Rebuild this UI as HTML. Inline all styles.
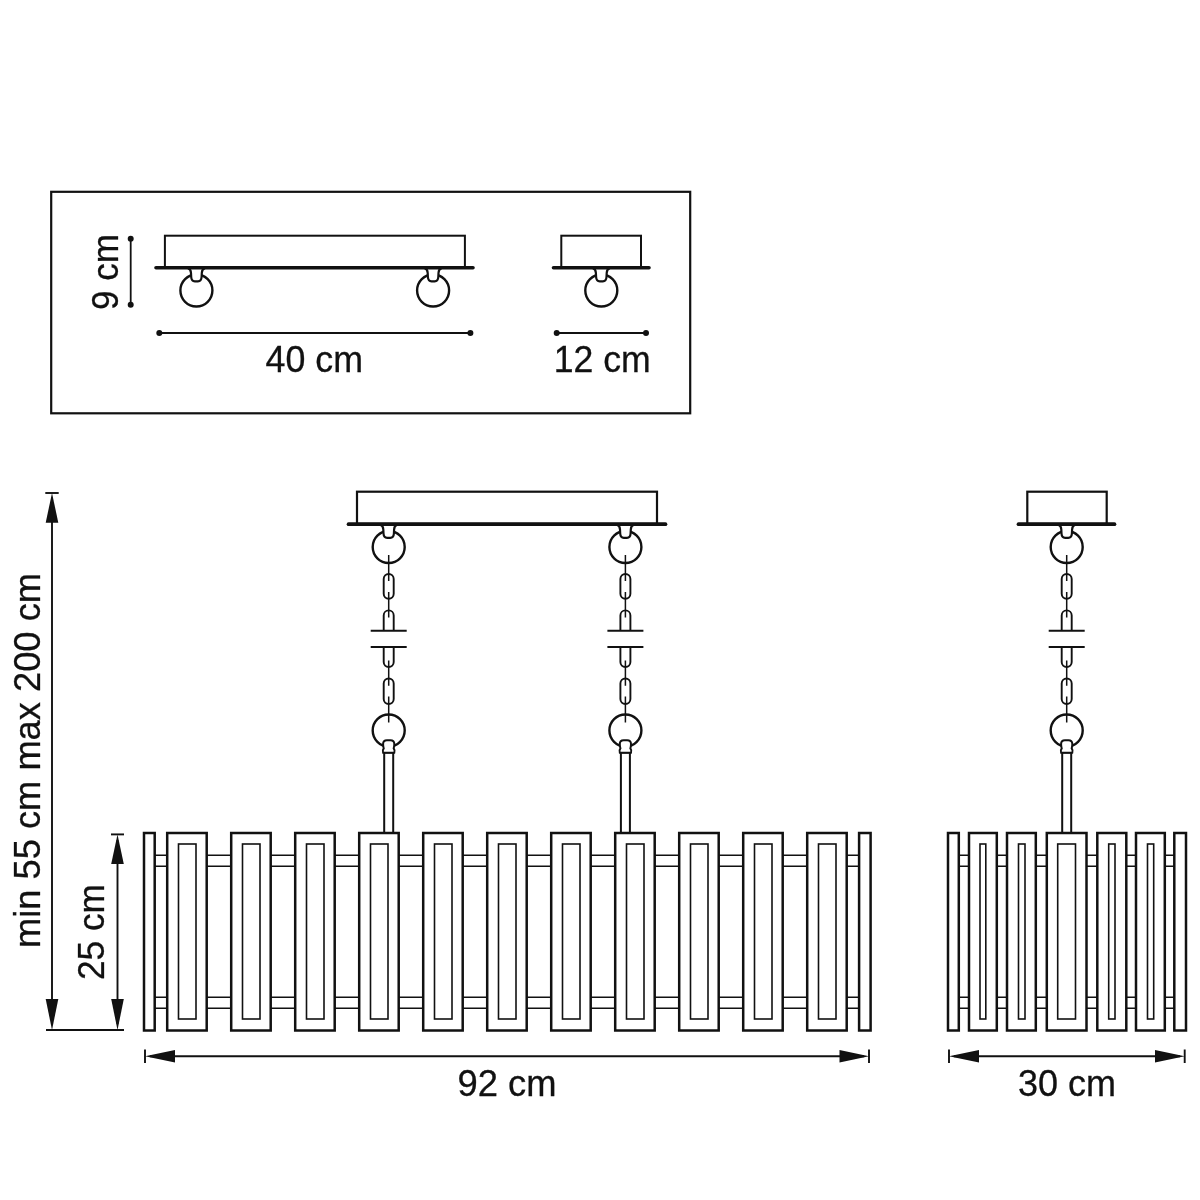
<!DOCTYPE html>
<html>
<head>
<meta charset="utf-8">
<style>
html,body{margin:0;padding:0;background:#fff;}
body{width:1200px;height:1200px;overflow:hidden;}
svg{display:block;will-change:transform;}
text{font-family:"Liberation Sans",sans-serif;fill:#111;stroke:#111;stroke-width:0.3px;}
</style>
</head>
<body>
<svg width="1200" height="1200" viewBox="0 0 1200 1200">
<defs>
  <!-- ceiling bulb/neck, plate at y=524 -->
  <g id="bulb">
    <circle cx="0" cy="547" r="16" fill="#fff" stroke="#111" stroke-width="2.4"/>
    <path d="M-8.5 524.6 Q-5.6 525.6 -5.4 529.5 L-5.2 533.5 Q-4.9 537.8 -1.6 537.8 H1.6 Q4.9 537.8 5.2 533.5 L5.4 529.5 Q5.6 525.6 8.5 524.6" fill="#fff" stroke="#111" stroke-width="2.2"/>
  </g>
  <g id="chain">
    <circle cx="0" cy="730.5" r="16" fill="none" stroke="#111" stroke-width="2.4"/>
    <use href="#bulb"/>
    <path d="M0 555 V581 M0 592 V617.6 M0 660.4 V685.8 M0 696.6 V722.5" stroke="#111" stroke-width="1.5" fill="none"/>
    <rect x="-5" y="574" width="10" height="24.7" rx="5" fill="none" stroke="#111" stroke-width="1.9"/>
    <rect x="-5" y="678.5" width="10" height="25.5" rx="5" fill="none" stroke="#111" stroke-width="1.9"/>
    <path d="M-5 631 V615.4 A5 5 0 0 1 5 615.4 V631" fill="none" stroke="#111" stroke-width="1.9"/>
    <path d="M-5 646.9 V662 A5 5 0 0 0 5 662 V646.9" fill="none" stroke="#111" stroke-width="1.9"/>
    <path d="M-18 630.8 H18 M-18 646.9 H18" stroke="#111" stroke-width="2" fill="none"/>
    <rect x="-4.5" y="752.5" width="9" height="80.5" fill="#fff" stroke="#111" stroke-width="2"/>
    <path d="M-5.6 752.8 Q-6.6 750.5 -5 748.3 Q-5.6 746.5 -5.6 744 Q-5.6 740.2 -1.8 740.2 H1.8 Q5.6 740.2 5.6 744 Q5.6 746.5 5 748.3 Q6.6 750.5 5.6 752.8 Z" fill="#fff" stroke="#111" stroke-width="2"/>
  </g>
  <marker id="ah" viewBox="0 0 30 12.6" refX="0" refY="6.3" markerWidth="30" markerHeight="12.6" markerUnits="userSpaceOnUse" orient="auto-start-reverse">
    <path d="M0 6.3 L30 0 L30 12.6 Z" fill="#111"/>
  </marker>
</defs>

<!-- ===== TOP BOX ===== -->
<rect x="51.2" y="191.8" width="639" height="221.5" fill="none" stroke="#111" stroke-width="2.2"/>
<!-- left canopy -->
<rect x="164.9" y="235.7" width="300" height="32" fill="#fff" stroke="#111" stroke-width="2"/>
<g transform="translate(196.4,-256.5)"><use href="#bulb"/></g>
<g transform="translate(433.1,-256.5)"><use href="#bulb"/></g>
<path d="M156 267.7 H473" stroke="#111" stroke-width="3.6" stroke-linecap="round"/>
<!-- 9cm dim -->
<path d="M130.7 238.7 V304.7" stroke="#111" stroke-width="1.8"/>
<circle cx="130.7" cy="238.7" r="3" fill="#111"/>
<circle cx="130.7" cy="304.7" r="3" fill="#111"/>
<!-- 40cm dim -->
<path d="M159.3 333 H470.4" stroke="#111" stroke-width="1.8"/>
<circle cx="159.3" cy="333" r="3" fill="#111"/>
<circle cx="470.4" cy="333" r="3" fill="#111"/>
<!-- small canopy -->
<rect x="561.3" y="235.7" width="79.7" height="32" fill="#fff" stroke="#111" stroke-width="2"/>
<g transform="translate(601.3,-256.5)"><use href="#bulb"/></g>
<path d="M553.5 267.7 H649" stroke="#111" stroke-width="3.6" stroke-linecap="round"/>
<path d="M556.7 333 H646" stroke="#111" stroke-width="1.8"/>
<circle cx="556.7" cy="333" r="3" fill="#111"/>
<circle cx="646" cy="333" r="3" fill="#111"/>

<text x="265.5" y="372" font-size="36" textLength="97.5" lengthAdjust="spacingAndGlyphs">40 cm</text>
<text x="553.8" y="372" font-size="36" textLength="97" lengthAdjust="spacingAndGlyphs">12 cm</text>
<text transform="translate(118,310) rotate(-90)" x="0" y="0" font-size="36" textLength="76" lengthAdjust="spacingAndGlyphs">9 cm</text>

<!-- ===== MAIN VIEW ===== -->
<rect x="357" y="491.7" width="300" height="32.3" fill="#fff" stroke="#111" stroke-width="2.2"/>
<g transform="translate(388.7,0)"><use href="#chain"/></g>
<g transform="translate(625.4,0)"><use href="#chain"/></g>
<path d="M348.5 524.2 H665.5" stroke="#111" stroke-width="3.7" stroke-linecap="round"/>

<!-- rails main -->
<path d="M154 855.2 H860 M154 866.2 H860 M154 997.2 H860 M154 1008.2 H860" stroke="#111" stroke-width="1.6"/>
<g fill="#fff" stroke="#111">
  <rect x="144" y="833" width="10.7" height="197.5" stroke-width="2.5"/>
  <rect x="859.1" y="833" width="11.5" height="197.5" stroke-width="2.5"/>
</g>
<g id="panels">
<g fill="#fff" stroke="#111" stroke-width="2.5">
  <rect x="167.2" y="833" width="39.5" height="197.5"/>
  <rect x="231.2" y="833" width="39.5" height="197.5"/>
  <rect x="295.2" y="833" width="39.5" height="197.5"/>
  <rect x="359.2" y="833" width="39.5" height="197.5"/>
  <rect x="423.2" y="833" width="39.5" height="197.5"/>
  <rect x="487.2" y="833" width="39.5" height="197.5"/>
  <rect x="551.2" y="833" width="39.5" height="197.5"/>
  <rect x="615.2" y="833" width="39.5" height="197.5"/>
  <rect x="679.2" y="833" width="39.5" height="197.5"/>
  <rect x="743.2" y="833" width="39.5" height="197.5"/>
  <rect x="807.2" y="833" width="39.5" height="197.5"/>
</g>
<g fill="none" stroke="#111" stroke-width="1.6">
  <rect x="178.5" y="844" width="17.5" height="175"/>
  <rect x="242.5" y="844" width="17.5" height="175"/>
  <rect x="306.5" y="844" width="17.5" height="175"/>
  <rect x="370.5" y="844" width="17.5" height="175"/>
  <rect x="434.5" y="844" width="17.5" height="175"/>
  <rect x="498.5" y="844" width="17.5" height="175"/>
  <rect x="562.5" y="844" width="17.5" height="175"/>
  <rect x="626.5" y="844" width="17.5" height="175"/>
  <rect x="690.5" y="844" width="17.5" height="175"/>
  <rect x="754.5" y="844" width="17.5" height="175"/>
  <rect x="818.5" y="844" width="17.5" height="175"/>
</g></g>

<!-- ===== RIGHT VIEW ===== -->
<rect x="1027.3" y="491.7" width="79.4" height="32.3" fill="#fff" stroke="#111" stroke-width="2.2"/>
<g transform="translate(1066.7,0)"><use href="#chain"/></g>
<path d="M1018.5 524.2 H1114.5" stroke="#111" stroke-width="3.7" stroke-linecap="round"/>
<path d="M958 855.2 H1175 M958 866.2 H1175 M958 997.2 H1175 M958 1008.2 H1175" stroke="#111" stroke-width="1.6"/>
<g fill="#fff" stroke="#111" stroke-width="2.5">
  <rect x="948" y="833" width="10.8" height="197.5"/>
  <rect x="969" y="833" width="27.8" height="197.5"/>
  <rect x="1007" y="833" width="28.8" height="197.5"/>
  <rect x="1046.8" y="833" width="39.7" height="197.5"/>
  <rect x="1097.3" y="833" width="29" height="197.5"/>
  <rect x="1136" y="833" width="28.8" height="197.5"/>
  <rect x="1174.3" y="833" width="11.7" height="197.5"/>
</g>
<g fill="none" stroke="#111" stroke-width="1.6">
  <rect x="980" y="844" width="5.8" height="175"/>
  <rect x="1018.5" y="844" width="6.5" height="175"/>
  <rect x="1057.7" y="844" width="17.8" height="175"/>
  <rect x="1108.7" y="844" width="6.3" height="175"/>
  <rect x="1147.5" y="844" width="6.2" height="175"/>
</g>

<!-- ===== DIMENSIONS ===== -->
<g stroke="#111" stroke-width="1.9" fill="none">
  <path d="M52 500 V1024"/>
  <path d="M45.3 493 H58.7"/>
  <path d="M46 1030 H124"/>
  <path d="M117.5 840 V1024"/>
  <path d="M111 834.4 H124"/>
  <path d="M150 1056.3 H864"/>
  <path d="M145 1049.5 V1063 M869 1049.5 V1063"/>
  <path d="M954 1056.3 H1180"/>
  <path d="M949 1049.5 V1063 M1184.7 1049.5 V1063"/>
</g>
<g fill="#111">
  <path d="M52 493 L45.7 522.7 L58.3 522.7 Z"/>
  <path d="M52 1030 L45.7 999 L58.3 999 Z"/>
  <path d="M117.5 834.4 L111.2 864 L123.8 864 Z"/>
  <path d="M117.5 1030 L111.2 999 L123.8 999 Z"/>
  <path d="M145 1056.3 L175 1050.1 L175 1062.5 Z"/>
  <path d="M869 1056.3 L839.5 1050.1 L839.5 1062.5 Z"/>
  <path d="M949 1056.3 L979 1050.1 L979 1062.5 Z"/>
  <path d="M1184.7 1056.3 L1155 1050.1 L1155 1062.5 Z"/>
</g>
<text x="457.5" y="1095.5" font-size="36" textLength="99" lengthAdjust="spacingAndGlyphs">92 cm</text>
<text x="1018" y="1095.5" font-size="36" textLength="98" lengthAdjust="spacingAndGlyphs">30 cm</text>
<text transform="translate(40,948) rotate(-90)" x="0" y="0" font-size="36" textLength="375" lengthAdjust="spacingAndGlyphs">min 55 cm max 200 cm</text>
<text transform="translate(104,980) rotate(-90)" x="0" y="0" font-size="36" textLength="96" lengthAdjust="spacingAndGlyphs">25 cm</text>
</svg>
</body>
</html>
